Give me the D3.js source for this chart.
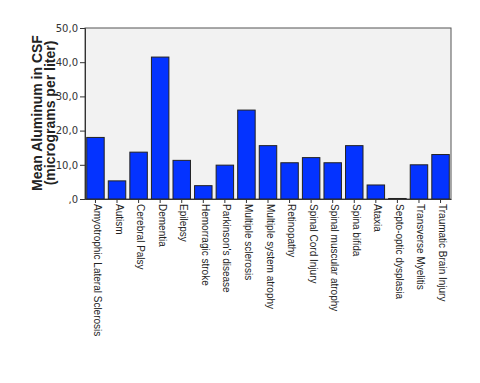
<!DOCTYPE html>
<meta charset="utf-8">
<head>
  <style>
    body { margin:0; background:#fff; }
  </style>
  <script src="https://d3js.org/d3.v7.min.js"></script>
</head>
<body>
<svg width="480" height="383"></svg>
<script>
  // categories and mean values
  var categories = ["Amyotrophic Lateral Sclerosis", "Autism", "Cerebral Palsy", "Dementia",
    "Epilepsy", "Hemorragic stroke", "Parkinson's disease", "Multiple sclerosis",
    "Multiple system atrophy", "Retinopathy", "Spinal Cord Injury", "Spinal muscular atrophy",
    "Spina bifida", "Ataxia", "Septo-optic dysplasia", "Transverse Myelitis", "Traumatic Brain Injury"]
  var values = [18.0, 5.3, 13.7, 41.5, 11.3, 3.9, 9.9, 26.0, 15.6, 10.6, 12.1, 10.6, 15.6, 4.1, 0.15, 10.0, 13.0]
  var yTicks = [0, 10, 20, 30, 40, 50]

  var plotLeft = 85, plotRight = 451, plotTop = 28, plotBottom = 199

  var svg = d3.select('svg')

  var x = d3.scaleBand().domain(categories).range([plotLeft, plotRight]).paddingInner(0.19).paddingOuter(0.08)
  var y = d3.scaleLinear().domain([0, 50]).range([plotBottom, plotTop])

  // plot background
  svg.append('rect')
    .attr('x', plotLeft).attr('y', plotTop)
    .attr('width', plotRight - plotLeft).attr('height', plotBottom - plotTop)
    .attr('fill', '#f2f2f2')
    .attr('stroke', '#555').attr('stroke-width', 1)

  svg.append('g')
    .selectAll('rect')
    .data(values)
    .enter().append('rect')
      .attr('x', function (d, i) { return x(categories[i]) })
      .attr('y', function (d) { return y(d) })
      .attr('width', x.bandwidth())
      .attr('height', function (d) { return plotBottom - y(d) })
      .attr('fill', '#0433ff')
      .attr('stroke', '#222').attr('stroke-width', 1)

  var fmt = function (d) { return d === 0 ? ',0' : d.toFixed(1).replace('.', ',') }

  var yAxis = svg.append('g')
    .attr('transform', 'translate(' + plotLeft + ',0)')
    .call(d3.axisLeft(y).tickValues(yTicks).tickFormat(fmt).tickSize(5).tickPadding(2))
  yAxis.select('.domain').attr('stroke', '#333')
  yAxis.selectAll('.tick line').attr('stroke', '#333')
  yAxis.selectAll('text').attr('font-size', 10).attr('fill', '#333')
    .attr('font-family', '"DejaVu Sans", sans-serif')

  var xAxis = svg.append('g')
    .attr('transform', 'translate(0,' + plotBottom + ')')
    .call(d3.axisBottom(x).tickSize(4).tickSizeOuter(0).tickPadding(2))
  xAxis.select('.domain').attr('stroke', '#333')
  xAxis.selectAll('.tick line').attr('stroke', '#333')
  xAxis.selectAll('text')
    .attr('font-size', 10).attr('fill', '#222')
    .attr('font-family', '"Liberation Sans", sans-serif')
    .attr('transform', 'translate(2,0) rotate(90)')
    .attr('x', 5).attr('y', 0).attr('dy', '0.35em')
    .style('text-anchor', 'start')

  // y axis title
  var title = svg.append('text')
    .attr('transform', 'translate(42,113) rotate(-90)')
    .attr('text-anchor', 'middle')
    .attr('font-size', 14).attr('font-weight', 'bold')
    .attr('font-family', '"Liberation Sans", sans-serif')
    .attr('fill', '#222')
  title.append('tspan').attr('x', 0).attr('dy', 0).text('Mean Aluminum in CSF')
  title.append('tspan').attr('x', 0).attr('dy', 13).text('(micrograms per liter)')
</script>
</body>
